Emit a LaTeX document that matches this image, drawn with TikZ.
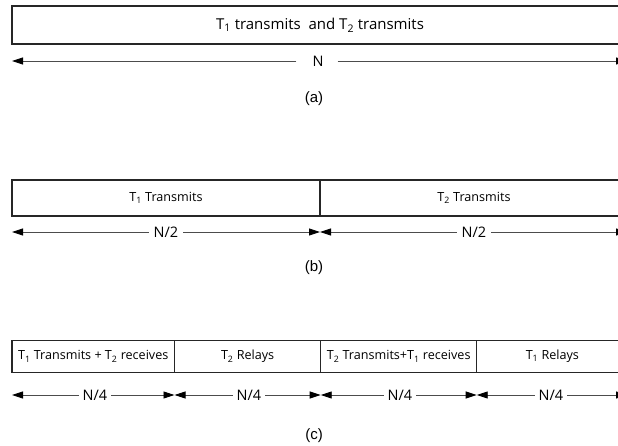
\documentclass[tikz,border=0pt]{standalone}
\usepackage{fontspec}
\setmainfont{Open Sans}
\newfontfamily\capfont{Liberation Sans}
\usetikzlibrary{arrows.meta}

\tikzset{
	slot/.style={draw=black!85,line width=1.1pt,inner sep=0pt,
		font=\fontsize{12.6}{14}\selectfont},
	span/.style={draw=black!70,line width=0.9pt,
		-{Triangle[length=11pt,width=7pt,color=black]}},
	lenlbl/.style={inner sep=0pt,font=\fontsize{14.5}{16}\selectfont},
	sublbl/.style={font=\capfont\fontsize{15}{17}\selectfont}
}
\newcommand{\tx}[1]{T\textsubscript{#1}}

\begin{document}
\begin{tikzpicture}[x=1pt,y=-1pt]
	\path[use as bounding box,clip] (0,0) rectangle (618,446);
	
	\node[slot,minimum width=616pt,minimum height=38pt,font=\fontsize{15}{17}\selectfont] 
	(full) at (320,25) {\tx{1} transmits\ \ and \tx{2} transmits};
	\coordinate (a0) at (12,61);
	\coordinate (a1) at (627,61);
	\node[lenlbl] (na) at (318,61) {N};
	\draw[span] ([xshift=-16pt]na.west) -- (a0);
	\draw[span] ([xshift=14pt]na.east) -- (a1);
	\node[sublbl] (la) at (314,99) {(a)};
	
	\node[slot,minimum width=308pt,minimum height=36pt] (b1) at (166,198) 
	{\tx{1} Transmits};
	\node[slot,minimum width=308pt,minimum height=36pt] (b2) at (474,198) 
	{\tx{2} Transmits};
	\coordinate (b0) at (12,232);
	\coordinate (bm) at (320,232);
	\coordinate (be) at (627,232);
	\node[lenlbl] (nb1) at (166,232) {N/2};
	\node[lenlbl] (nb2) at (474,232) {N/2};
	\draw[span] ([xshift=-5pt]nb1.west) -- (b0);
	\draw[span] ([xshift=5pt]nb1.east) -- (bm);
	\draw[span] ([xshift=-5pt]nb2.west) -- (bm);
	\draw[span] ([xshift=5pt]nb2.east) -- (be);
	\node[sublbl] (lb) at (314,268) {(b)};
	
	\node[slot,minimum width=162.5pt,minimum height=32pt] (c1) at (93.25,356.5) 
	{\tx{1} Transmits + \tx{2} receives};
	\node[slot,minimum width=146.2pt,minimum height=32pt] (c2) at (247.6,356.5) 
	{\tx{2} Relays};
	\node[slot,minimum width=156pt,minimum height=32pt] (c3) at (398.7,356.5) 
	{\tx{2} Transmits+\tx{1} receives};
	\node[slot,minimum width=151.3pt,minimum height=32pt] (c4) at (552.35,356.5) 
	{\tx{1} Relays};
	\coordinate (c0) at (12,395);
	\coordinate (cq1) at (174.5,395);
	\coordinate (cq2) at (320.7,395);
	\coordinate (cq3) at (476.7,395);
	\coordinate (ce) at (627,395);
	\node[lenlbl] (nc1) at (95,395) {N/4};
	\node[lenlbl] (nc2) at (249,395) {N/4};
	\node[lenlbl] (nc3) at (400,395) {N/4};
	\node[lenlbl] (nc4) at (551,395) {N/4};
	\draw[span] ([xshift=-4pt]nc1.west) -- (c0);
	\draw[span] ([xshift=4pt]nc1.east) -- (cq1);
	\draw[span] ([xshift=-4pt]nc2.west) -- (cq1);
	\draw[span] ([xshift=4pt]nc2.east) -- (cq2);
	\draw[span] ([xshift=-4pt]nc3.west) -- (cq2);
	\draw[span] ([xshift=4pt]nc3.east) -- (cq3);
	\draw[span] ([xshift=-4pt]nc4.west) -- (cq3);
	\draw[span] ([xshift=4pt]nc4.east) -- (ce);
	\node[sublbl] (lc) at (314,436) {(c)};
\end{tikzpicture}
\end{document}
